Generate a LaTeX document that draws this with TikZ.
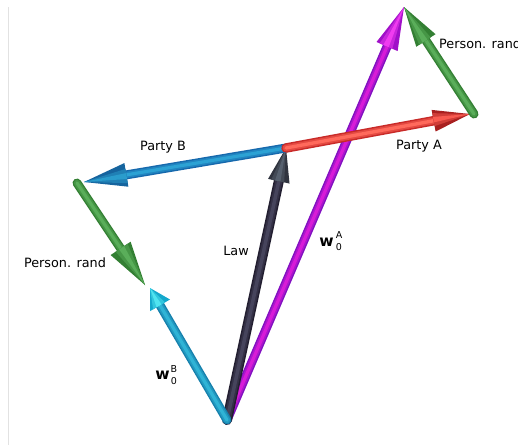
\documentclass[tikz,border=0pt]{standalone}
\usepackage{fontspec}
\setmainfont{DejaVu Sans}
\usetikzlibrary{calc}
\newcommand{\tubearrow}[9]{%
  % #1 from, #2 to, #3 shaft dark, #4 shaft light, #5 head dark, #6 head light, #7 head length, #8 head half width, #9 shaft width
  \coordinate (hb) at ($(#2)!#7!(#1)$);
  \draw[line width=#9, draw=#3, line cap=round] (#1) -- (hb);
  \draw[line width=#9*0.7, draw=#3!50!#4, line cap=round] (#1) -- (hb);
  \draw[line width=#9*0.35, draw=#4, line cap=round] (#1) -- (hb);
  \fill[#5] ($(hb)!#8!90:(#2)$) -- (#2) -- ($(hb)!#8!-90:(#2)$) -- cycle;
  \fill[#5!50!#6] ($(hb)!#8*0.7!90:(#2)$) -- (#2) -- ($(hb)!#8*0.5!-90:(#2)$) -- cycle;
  \fill[#6] ($(hb)!#8*0.35!90:(#2)$) -- (#2) -- ($(hb)!#8*0.15!-90:(#2)$) -- cycle;
}
\definecolor{redD}{HTML}{C82A28}
\definecolor{redL}{HTML}{FF6A5C}
\definecolor{redH}{HTML}{A82020}
\definecolor{redHL}{HTML}{F85A50}
\definecolor{grnD}{HTML}{337F33}
\definecolor{grnL}{HTML}{5AAE5A}
\definecolor{bluD}{HTML}{1668AC}
\definecolor{bluL}{HTML}{2CA2D4}
\definecolor{bluH}{HTML}{16649E}
\definecolor{bluHL}{HTML}{2A9CCC}
\definecolor{cyD}{HTML}{1680AC}
\definecolor{cyL}{HTML}{30B4D6}
\definecolor{cyH}{HTML}{14A8CC}
\definecolor{cyHL}{HTML}{50E4F0}
\definecolor{lawD}{HTML}{221E30}
\definecolor{lawL}{HTML}{46445C}
\definecolor{lawH}{HTML}{30343F}
\definecolor{lawHL}{HTML}{56606E}
\definecolor{magD}{HTML}{8010C0}
\definecolor{magL}{HTML}{D81CD8}
\definecolor{magH}{HTML}{A010C8}
\definecolor{magHL}{HTML}{F03CF0}
\definecolor{frame}{HTML}{E2E2E2}
\tikzset{
  lbl/.style={inner sep=0pt, font=\fontsize{12.8}{14}\selectfont},
  wlbl/.style={inner sep=0pt, font=\fontsize{15.5}{16}\selectfont\bfseries},
  idx/.style={inner sep=0pt, font=\fontsize{9.5}{10}\selectfont}
}
\begin{document}
\begin{tikzpicture}[x=1pt,y=-1pt]
\useasboundingbox (0,0) rectangle (518,445);
\clip (0,0) rectangle (518,445);
\draw[frame, line width=1pt] (8.5,7) -- (8.5,445);
% points
\coordinate (O) at (227,420);
\coordinate (C) at (286,148);
\coordinate (A) at (470,114);
\coordinate (GA) at (474,114);
\coordinate (T) at (404,7);
\coordinate (B) at (84,182);
\coordinate (GB) at (77,183);
\coordinate (BT) at (145,285);
\coordinate (WB) at (150,288);
% arrows
\tubearrow{O}{T}{magD}{magL}{magH}{magHL}{43pt}{11.5pt}{9pt}
\tubearrow{O}{C}{lawD}{lawL}{lawH}{lawHL}{34pt}{11pt}{10pt}
\tubearrow{O}{WB}{cyD}{cyL}{cyH}{cyHL}{20pt}{11.5pt}{9pt}
\tubearrow{GB}{BT}{grnD}{grnL}{grnD}{grnL}{44pt}{12pt}{9pt}
\tubearrow{C}{B}{bluD}{bluL}{bluH}{bluHL}{43pt}{12pt}{9pt}
\tubearrow{C}{A}{redD}{redL}{redH}{redHL}{37pt}{11pt}{9.5pt}
\tubearrow{GA}{T}{grnD}{grnL}{grnD}{grnL}{40pt}{11.5pt}{9pt}
% labels
\node[lbl, anchor=west] (prA) at (439,44) {Person. rand};
\node[lbl] (pB) at (163,147) {Party B};
\node[lbl] (pA) at (419,146) {Party A};
\node[lbl] (prB) at (65,263) {Person. rand};
\node[lbl] (law) at (236,251) {Law};
\node[wlbl] (wA) at (326.5,242) {w};
\node[idx] (wAs) at (339,235) {A};
\node[idx] (wAi) at (339,247) {0};
\node[wlbl] (wB) at (162.5,375) {w};
\node[idx] (wBs) at (174,369) {B};
\node[idx] (wBi) at (174,381) {0};
\end{tikzpicture}
\end{document}
